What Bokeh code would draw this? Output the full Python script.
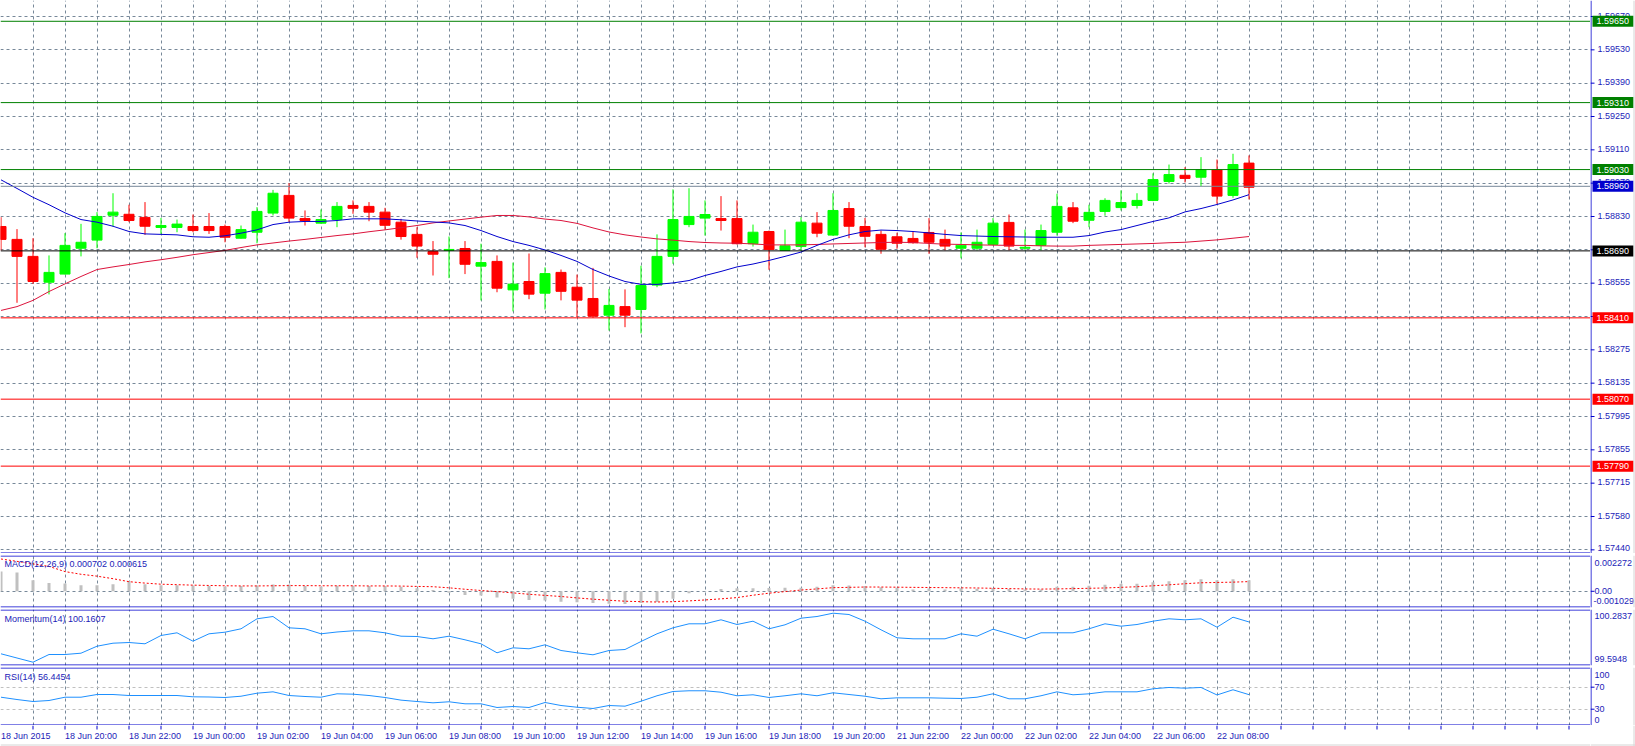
import numpy as np
from bokeh.plotting import figure
from bokeh.layouts import column, row
from bokeh.models import Range1d, FixedTicker, Span
from bokeh.embed import file_html
from bokeh.resources import INLINE
from bokeh.core.properties import value

# ---------------- data (GBPUSD M30) ----------------
OPEN = [1.58792, 1.58738, 1.58667, 1.58559, 1.58593, 1.58701, 1.58735, 1.58839, 1.58843, 1.58830,
        1.58788, 1.58788, 1.58792, 1.58792, 1.58792, 1.58743, 1.58768, 1.58848, 1.58922, 1.58825,
        1.58806, 1.58821, 1.58880, 1.58876, 1.58852, 1.58810, 1.58759, 1.58687, 1.58692, 1.58700,
        1.58626, 1.58646, 1.58527, 1.58562, 1.58513, 1.58600, 1.58538, 1.58491, 1.58421, 1.58457,
        1.58445, 1.58547, 1.58667, 1.58800, 1.58827, 1.58825, 1.58825, 1.58720, 1.58771, 1.58692,
        1.58708, 1.58806, 1.58756, 1.58867, 1.58792, 1.58759, 1.58749, 1.58742, 1.58767, 1.58738,
        1.58701, 1.58701, 1.58717, 1.58809, 1.58701, 1.58713, 1.58768, 1.58870, 1.58818, 1.58855,
        1.58871, 1.58880, 1.58901, 1.58980, 1.59006, 1.58998, 1.59029, 1.58922, 1.59057]
HIGH = [1.58831, 1.58781, 1.58743, 1.58671, 1.58764, 1.58803, 1.58852, 1.58931, 1.58883, 1.58894,
        1.58828, 1.58821, 1.58842, 1.58848, 1.58800, 1.58796, 1.58873, 1.58945, 1.58973, 1.58859,
        1.58863, 1.58894, 1.58901, 1.58894, 1.58870, 1.58824, 1.58789, 1.58731, 1.58750, 1.58731,
        1.58720, 1.58671, 1.58641, 1.58679, 1.58621, 1.58612, 1.58591, 1.58619, 1.58531, 1.58529,
        1.58628, 1.58759, 1.58947, 1.58952, 1.58901, 1.58919, 1.58901, 1.58800, 1.58775, 1.58779,
        1.58831, 1.58852, 1.58931, 1.58894, 1.58828, 1.58775, 1.58766, 1.58771, 1.58827, 1.58779,
        1.58767, 1.58779, 1.58827, 1.58842, 1.58779, 1.58800, 1.58929, 1.58894, 1.58883, 1.58910,
        1.58943, 1.58931, 1.59014, 1.59051, 1.59040, 1.59082, 1.59072, 1.59096, 1.59089]
LOW = [1.58692, 1.58473, 1.58552, 1.58508, 1.58592, 1.58667, 1.58701, 1.58792, 1.58810, 1.58757,
       1.58761, 1.58768, 1.58768, 1.58761, 1.58726, 1.58741, 1.58722, 1.58838, 1.58810, 1.58796,
       1.58803, 1.58789, 1.58845, 1.58814, 1.58779, 1.58737, 1.58661, 1.58587, 1.58576, 1.58593,
       1.58483, 1.58517, 1.58437, 1.58488, 1.58445, 1.58483, 1.58413, 1.58410, 1.58357, 1.58371,
       1.58345, 1.58538, 1.58636, 1.58789, 1.58754, 1.58775, 1.58717, 1.58708, 1.58611, 1.58690,
       1.58690, 1.58747, 1.58753, 1.58743, 1.58705, 1.58678, 1.58699, 1.58720, 1.58678, 1.58692,
       1.58659, 1.58692, 1.58713, 1.58692, 1.58692, 1.58692, 1.58754, 1.58806, 1.58789, 1.58837,
       1.58859, 1.58867, 1.58898, 1.58971, 1.58976, 1.58961, 1.58887, 1.58912, 1.58905]
CLOSE = [1.58738, 1.58667, 1.58562, 1.58600, 1.58713, 1.58726, 1.58834, 1.58852, 1.58817, 1.58793,
         1.58796, 1.58802, 1.58775, 1.58775, 1.58747, 1.58779, 1.58855, 1.58931, 1.58827, 1.58817,
         1.58821, 1.58876, 1.58868, 1.58852, 1.58797, 1.58750, 1.58710, 1.58676, 1.58696, 1.58634,
         1.58641, 1.58534, 1.58551, 1.58509, 1.58595, 1.58521, 1.58484, 1.58417, 1.58462, 1.58421,
         1.58545, 1.58667, 1.58821, 1.58834, 1.58842, 1.58817, 1.58720, 1.58768, 1.58696, 1.58711,
         1.58810, 1.58764, 1.58859, 1.58793, 1.58751, 1.58697, 1.58722, 1.58724, 1.58726, 1.58710,
         1.58714, 1.58726, 1.58806, 1.58710, 1.58705, 1.58775, 1.58876, 1.58814, 1.58851, 1.58901,
         1.58892, 1.58901, 1.58988, 1.59009, 1.58993, 1.59029, 1.58919, 1.59051, 1.58956]

MA_FAST = [1.58987, 1.58951, 1.58914, 1.58883, 1.58849, 1.58821, 1.58810, 1.58793, 1.58771, 1.58761,
           1.58759, 1.58757, 1.58749, 1.58747, 1.58753, 1.58764, 1.58778, 1.58800, 1.58810, 1.58813,
           1.58813, 1.58817, 1.58824, 1.58824, 1.58824, 1.58820, 1.58815, 1.58811, 1.58807, 1.58796,
           1.58775, 1.58750, 1.58729, 1.58713, 1.58694, 1.58671, 1.58646, 1.58612, 1.58585, 1.58562,
           1.58550, 1.58550, 1.58556, 1.58566, 1.58587, 1.58604, 1.58623, 1.58635, 1.58650, 1.58667,
           1.58685, 1.58713, 1.58738, 1.58757, 1.58771, 1.58777, 1.58775, 1.58771, 1.58765, 1.58759,
           1.58754, 1.58752, 1.58750, 1.58749, 1.58748, 1.58747, 1.58747, 1.58747, 1.58754, 1.58769,
           1.58779, 1.58796, 1.58813, 1.58828, 1.58853, 1.58867, 1.58884, 1.58903, 1.58925]
MA_SLOW = [1.58441, 1.58457, 1.58483, 1.58520, 1.58552, 1.58583, 1.58612, 1.58623, 1.58633, 1.58644,
           1.58653, 1.58663, 1.58674, 1.58683, 1.58692, 1.58704, 1.58715, 1.58723, 1.58731, 1.58738,
           1.58746, 1.58754, 1.58761, 1.58770, 1.58778, 1.58787, 1.58796, 1.58807, 1.58815, 1.58823,
           1.58831, 1.58838, 1.58838, 1.58832, 1.58823, 1.58817, 1.58805, 1.58786, 1.58769, 1.58757,
           1.58748, 1.58740, 1.58735, 1.58729, 1.58725, 1.58723, 1.58722, 1.58719, 1.58715, 1.58715,
           1.58715, 1.58717, 1.58719, 1.58721, 1.58723, 1.58725, 1.58726, 1.58725, 1.58721, 1.58718,
           1.58717, 1.58715, 1.58714, 1.58713, 1.58713, 1.58711, 1.58710, 1.58710, 1.58713, 1.58715,
           1.58717, 1.58719, 1.58721, 1.58724, 1.58726, 1.58731, 1.58736, 1.58743, 1.58750]

MACD_MAIN = [0.00125, 0.00120, 0.00070, 0.00053, 0.00050, 0.00039, 0.00039, 0.00045, 0.00064, 0.00045,
             0.00039, 0.00039, 0.00037, 0.00033, 0.00029, 0.00033, 0.00037, 0.00043, 0.00043, 0.00033,
             0.00029, 0.00035, 0.00035, 0.00033, 0.00033, 0.00029, 0.00019, 0.00008, -0.00010, -0.00023,
             -0.00027, -0.00039, -0.00047, -0.00056, -0.00058, -0.00066, -0.00070, -0.00074, -0.00079, -0.00081,
             -0.00074, -0.00068, -0.00048, -0.00012, 0.00002, 0.00014, 0.00019, 0.00019, 0.00021, 0.00023,
             0.00023, 0.00029, 0.00039, 0.00037, 0.00033, 0.00025, 0.00023, 0.00012, 0.00017, 0.00012,
             0.00019, 0.00016, 0.00021, 0.00014, 0.00011, 0.00012, 0.00029, 0.00029, 0.00035, 0.00041,
             0.00048, 0.00048, 0.00058, 0.00064, 0.00070, 0.00077, 0.00070, 0.00077, 0.000702]
MACD_SIGNAL = [0.00205, 0.00190, 0.00174, 0.00158, 0.00125, 0.00108, 0.00096, 0.00080, 0.00061, 0.00052,
               0.00045, 0.00042, 0.00039, 0.00037, 0.00035, 0.00034, 0.00034, 0.00035, 0.00036, 0.00036,
               0.00035, 0.00035, 0.00035, 0.00034, 0.00034, 0.00033, 0.00031, 0.00029, 0.00022, 0.00013,
               0.00005, -0.00002, -0.00010, -0.00019, -0.00026, -0.00033, -0.00042, -0.00050, -0.00057, -0.00063,
               -0.00066, -0.00068, -0.00066, -0.00061, -0.00055, -0.00048, -0.00040, -0.00025, -0.00012, -0.00002,
               0.00008, 0.00015, 0.00023, 0.00025, 0.00027, 0.00027, 0.00026, 0.00025, 0.00024, 0.00023,
               0.00022, 0.00021, 0.00019, 0.00017, 0.00015, 0.00014, 0.00015, 0.00017, 0.00019, 0.00021,
               0.00025, 0.00029, 0.00035, 0.00041, 0.00048, 0.00054, 0.00056, 0.00058, 0.000615]
MOMENTUM = [99.7129, 99.6538, 99.5948, 99.7030, 99.7030, 99.7213, 99.8197, 99.8619, 99.8717, 99.8535,
            99.9702, 100.0081, 99.8900, 99.9941, 100.0166, 100.0644, 100.2050, 100.2373, 100.0784, 100.0644,
            99.9941, 100.0194, 100.0362, 100.0362, 100.0081, 99.9603, 99.9561, 99.9238, 99.9603, 99.9097,
            99.8535, 99.7269, 99.7972, 99.7832, 99.8394, 99.7593, 99.7269, 99.6988, 99.7593, 99.7733,
            99.8858, 99.9941, 100.0784, 100.1347, 100.1347, 100.1909, 100.1248, 100.1712, 100.0644, 100.1206,
            100.2134, 100.2373, 100.2837, 100.2654, 100.1712, 100.0503, 99.9378, 99.9238, 99.9238, 99.9238,
            99.9941, 99.9603, 100.0587, 99.9941, 99.9238, 100.0081, 100.0081, 100.0081, 100.0644, 100.1347,
            100.1009, 100.1248, 100.1712, 100.2050, 100.1909, 100.2050, 100.0869, 100.2275, 100.1607]
RSI = [51.8, 47.6, 44.0, 45.8, 51.8, 51.8, 56.7, 56.7, 54.9, 54.9,
       54.9, 54.9, 52.5, 52.2, 51.3, 53.6, 59.1, 61.6, 54.9, 53.1,
       51.8, 58.0, 57.3, 54.9, 51.3, 46.5, 44.0, 41.6, 43.5, 39.8,
       39.8, 33.1, 34.9, 33.1, 42.2, 36.7, 33.6, 31.3, 36.7, 35.5,
       44.5, 54.4, 62.2, 63.5, 63.5, 60.9, 54.4, 56.2, 51.3, 54.4,
       58.0, 54.4, 59.8, 56.7, 53.6, 48.9, 50.7, 50.7, 50.7, 50.0,
       49.5, 51.8, 58.0, 48.9, 48.9, 54.4, 61.6, 56.2, 58.0, 61.6,
       61.6, 61.6, 67.1, 69.5, 68.2, 69.5, 55.9, 65.3, 56.4454]

PRICE_TICK_LABELS = ["1.59670", "1.59530", "1.59390", "1.59250", "1.59110", "1.58970", "1.58830",
                     "1.58690", "1.58555", "1.58410", "1.58275", "1.58135", "1.57995", "1.57855",
                     "1.57715", "1.57580", "1.57440"]
PRICE_TOP = 1.59670
PRICE_BOTTOM = 1.57440

LEVELS = [1.59650, 1.59310, 1.59030, 1.58960, 1.58690, 1.58410, 1.58070, 1.57790]

TIME_LABEL_BARS = list(range(0, 80, 4))
TIME_LABELS = ["18 Jun 2015", "18 Jun 20:00", "18 Jun 22:00", "19 Jun 00:00", "19 Jun 02:00",
               "19 Jun 04:00", "19 Jun 06:00", "19 Jun 08:00", "19 Jun 10:00", "19 Jun 12:00",
               "19 Jun 14:00", "19 Jun 16:00", "19 Jun 18:00", "19 Jun 20:00", "21 Jun 22:00",
               "22 Jun 00:00", "22 Jun 02:00", "22 Jun 04:00", "22 Jun 06:00", "22 Jun 08:00"]

MACD_TITLE = "MACD(12,26,9) 0.000702 0.000615"
MOM_TITLE = "Momentum(14) 100.1607"
RSI_TITLE = "RSI(14) 56.4454"
MACD_MAX, MACD_MIN = 0.002272, -0.001029
MOM_MAX, MOM_MIN = 100.2837, 99.5948
RSI_LEVELS = [70, 30]

# ---------------- styles ----------------
FONT = "Liberation Sans"
FS = "9px"
TXT = "#1c1cb8"
BLUE = "#0000cd"
GRID = "#778899"
EDGE = "#d4d4d4"
BULL = "#00ff00"
BEAR = "#ff0000"
LEVEL_LINE = ["#008000", "#008000", "#008000", "#778899", "#000000", "#ff0000", "#ff0000", "#ff0000"]
LEVEL_BOX = ["#008000", "#008000", "#008000", "#0000cd", "#000000", "#ff0000", "#ff0000", "#ff0000"]

FRAME_W = 1590
SIDE_W = 45
BAR_PX = 16.0
n = len(OPEN)
idx = list(range(n))
xr = Range1d(-0.5 / BAR_PX, (FRAME_W - 0.5) / BAR_PX)
VGRID = list(range(2, 100, 2))


def at_px(yr, frame_h, px):
    return yr.end - px * (yr.end - yr.start) / frame_h


def base_fig(width, height, xrange, yr, top, bottom):
    f = figure(width=width, height=height, x_range=xrange, y_range=yr,
               x_axis_location=None, y_axis_location=None,
               toolbar_location=None, output_backend="svg",
               min_border_left=0, min_border_right=0,
               min_border_top=top, min_border_bottom=bottom)
    f.outline_line_color = None
    f.background_fill_color = "white"
    f.border_fill_color = "white"
    return f


def make_panel(frame_h, yr, top, bottom, border_top=True):
    p = base_fig(FRAME_W, frame_h + top + bottom, xr, yr, top, bottom)
    p.xgrid.ticker = FixedTicker(ticks=VGRID)
    p.xgrid.grid_line_color = GRID
    p.xgrid.grid_line_dash = "3 3"
    per = (yr.end - yr.start) / frame_h
    if border_top:
        p.add_layout(Span(location=yr.end - 0.5 * per, dimension="width", line_color=BLUE, line_width=1))
    p.add_layout(Span(location=yr.start + 0.5 * per, dimension="width", line_color=BLUE, line_width=1))
    s = base_fig(SIDE_W, frame_h + top + bottom, Range1d(0, SIDE_W), yr, top, bottom)
    s.grid.visible = False
    s.add_layout(Span(location=0.5, dimension="height", line_color=BLUE, line_width=1))
    s.add_layout(Span(location=SIDE_W - 1.5, dimension="height", line_color=EDGE, line_width=1))
    return p, s


def side_ticks(s, ys, labels, x=7, marks=True, offsets=None):
    k = len(ys)
    if marks:
        s.segment(x0=[0] * k, y0=ys, x1=[4] * k, y1=ys, line_color=BLUE, line_width=1)
    s.text(x=[x] * k, y=ys, text=labels, text_font=value(FONT), text_font_size=value(FS),
           text_color=TXT, text_align="left", text_baseline="middle",
           y_offset=offsets if offsets is not None else 0)


def title_text(p, y, text):
    p.text(x=[xr.start], y=[y], text=[text], x_offset=4, text_font=value(FONT),
           text_font_size=value(FS), text_color=TXT, text_align="left", text_baseline="middle")


# ---------------- main price panel ----------------
MAIN_H = 553
tick_step = (PRICE_TOP - PRICE_BOTTOM) / (len(PRICE_TICK_LABELS) - 1)
ppu = (100.0 / 3.0) / tick_step
y_end = PRICE_TOP + 16 / ppu
yr_main = Range1d(y_end - MAIN_H / ppu, y_end)
p, s = make_panel(MAIN_H, yr_main, 0, 0, border_top=False)
ticks = [PRICE_TOP - k * tick_step for k in range(len(PRICE_TICK_LABELS))]
p.ygrid.ticker = FixedTicker(ticks=ticks)
p.ygrid.grid_line_color = GRID
p.ygrid.grid_line_dash = "3 3"

colors = [BULL if c >= o else BEAR for o, c in zip(OPEN, CLOSE)]
p.segment(x0=idx, y0=LOW, x1=idx, y1=HIGH, line_color=colors, line_width=1)
p.vbar(x=idx, width=10 / BAR_PX, top=list(np.maximum(OPEN, CLOSE)), bottom=list(np.minimum(OPEN, CLOSE)),
       fill_color=colors, line_color=colors, line_width=1)
p.line(idx, MA_SLOW, line_color="#dc143c", line_width=1)
p.line(idx, MA_FAST, line_color="#0000cd", line_width=1)
for lv, lc in zip(LEVELS, LEVEL_LINE):
    p.add_layout(Span(location=lv, dimension="width", line_color=lc, line_width=1))

side_ticks(s, ticks, PRICE_TICK_LABELS, offsets=[-1] * (len(ticks) - 1) + [-2])
s.rect(x=[22.5] * len(LEVELS), y=LEVELS, width=41, height=11, height_units="screen",
       fill_color=LEVEL_BOX, line_color=None)
s.text(x=[6] * len(LEVELS), y=LEVELS, text=[f"{v:.5f}" for v in LEVELS], text_font=value(FONT),
       text_font_size=value(FS), text_color="white", text_align="left", text_baseline="middle")

# ---------------- MACD ----------------
MACD_H = 52
yr_macd = Range1d(MACD_MIN, MACD_MAX)
pm, sm = make_panel(MACD_H, yr_macd, 2, 1)
pm.ygrid.ticker = FixedTicker(ticks=[0])
pm.ygrid.grid_line_color = GRID
pm.ygrid.grid_line_dash = "3 3"
pm.vbar(x=idx, width=3 / BAR_PX, top=MACD_MAIN, bottom=0, fill_color="#c0c0c0", line_color=None)
pm.line(idx, MACD_SIGNAL, line_color="#ff0000", line_width=1, line_dash="2 2")
title_text(pm, at_px(yr_macd, MACD_H, 8.7), MACD_TITLE)
side_ticks(sm, [at_px(yr_macd, MACD_H, 7.3)], [f"{MACD_MAX:.6f}"], x=4, marks=False)
side_ticks(sm, [0], ["0.00"], x=4)
side_ticks(sm, [at_px(yr_macd, MACD_H, 45.7)], [f"{MACD_MIN:.6f}"], x=3, marks=False)

# ---------------- Momentum ----------------
MOM_H = 56
mom_per_px = (MOM_MAX - MOM_MIN) / 49.0
yr_mom = Range1d(MOM_MIN - 3.3 * mom_per_px, MOM_MAX + 3.7 * mom_per_px)
po, so = make_panel(MOM_H, yr_mom, 1, 1)
po.ygrid.visible = False
po.line(idx, MOMENTUM, line_color="#1e90ff", line_width=1)
title_text(po, at_px(yr_mom, MOM_H, 9.7), MOM_TITLE)
side_ticks(so, [at_px(yr_mom, MOM_H, 6.0), at_px(yr_mom, MOM_H, 49.3)],
           [f"{MOM_MAX:.4f}", f"{MOM_MIN:.4f}"], x=4, marks=False)

# ---------------- RSI ----------------
RSI_H = 58
rsi_per_px = 40.0 / 22.0
yr_rsi = Range1d(70 + 19.7 * rsi_per_px - RSI_H * rsi_per_px, 70 + 19.7 * rsi_per_px)
pr, sr = make_panel(RSI_H, yr_rsi, 1, 0)
pr.ygrid.ticker = FixedTicker(ticks=RSI_LEVELS)
pr.ygrid.grid_line_color = "#c0c0c0"
pr.ygrid.grid_line_dash = "3 3"
pr.line(idx, RSI, line_color="#1e90ff", line_width=1)
title_text(pr, at_px(yr_rsi, RSI_H, 9.7), RSI_TITLE)
side_ticks(sr, RSI_LEVELS, [str(v) for v in RSI_LEVELS], x=4)
side_ticks(sr, [at_px(yr_rsi, RSI_H, 7.3), at_px(yr_rsi, RSI_H, 52.3)], ["100", "0"], x=4, marks=False)

# ---------------- time axis strip ----------------
ps = base_fig(FRAME_W, 21, xr, Range1d(0, 21), 0, 0)
ps.grid.visible = False
ps.segment(x0=VGRID, y0=[21] * len(VGRID), x1=VGRID, y1=[17] * len(VGRID), line_color=BLUE, line_width=1)
ps.text(x=TIME_LABEL_BARS, y=[11] * len(TIME_LABEL_BARS), text=TIME_LABELS,
        text_font=value(FONT), text_font_size=value(FS), text_color=TXT,
        text_align="left", text_baseline="middle")
ps.add_layout(Span(location=1.5, dimension="width", line_color=EDGE, line_width=1))
pss = base_fig(SIDE_W, 21, Range1d(0, SIDE_W), Range1d(0, 21), 0, 0)
pss.grid.visible = False
pss.add_layout(Span(location=1.5, dimension="width", line_color=EDGE, line_width=1))
pss.add_layout(Span(location=SIDE_W - 1.5, dimension="height", line_color=EDGE, line_width=1))

layout = column(row(p, s, spacing=0), row(pm, sm, spacing=0), row(po, so, spacing=0),
                row(pr, sr, spacing=0), row(ps, pss, spacing=0), spacing=0)
open("out.html", "w").write(file_html(layout, INLINE))
